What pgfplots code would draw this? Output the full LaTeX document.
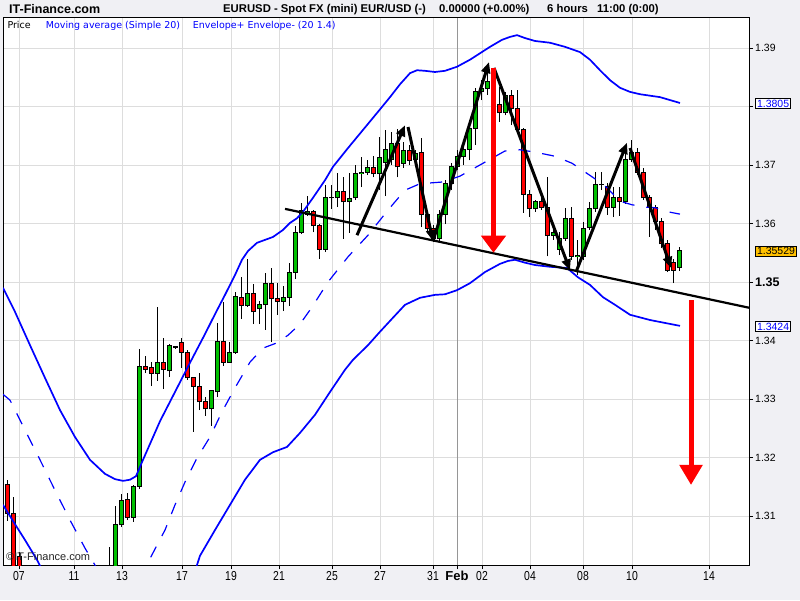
\documentclass[border=0pt]{standalone}
\usepackage{fontspec}
\setmainfont{Liberation Sans}
\newfontfamily\dejavu{DejaVu Sans}
\usepackage{graphicx}
\usepackage{pgfplots}
\usepackage{pgfplotstable}
\pgfplotsset{compat=1.18}
\usetikzlibrary{arrows.meta}
\definecolor{bgc}{RGB}{240,240,244}
\definecolor{cgreen}{RGB}{0,192,0}
\definecolor{cred}{RGB}{255,0,0}
\definecolor{gridc}{RGB}{221,221,221}
\definecolor{febc}{RGB}{150,150,150}
\definecolor{lblue}{RGB}{0,0,255}
\definecolor{obox}{RGB}{255,192,0}
\newcommand\dl[1]{\scalebox{0.8}[1]{#1}}

\pgfplotstableread{
x O H L C
109.5 1.2956 1.3047 1.2939 1.2991
115.5 1.2974 1.3117 1.2965 1.3085
121.5 1.3085 1.3138 1.3081 1.3127
133.5 1.3098 1.3153 1.3090 1.3150
139.5 1.3151 1.3385 1.3146 1.3356
157.5 1.3344 1.3457 1.3331 1.3362
169.5 1.3348 1.3394 1.3338 1.3391
175.5 1.3388 1.3391 1.3386 1.3389
211.5 1.3283 1.3315 1.3254 1.3314
217.5 1.3312 1.3430 1.3303 1.3399
229.5 1.3363 1.3397 1.3362 1.3379
235.5 1.3379 1.3483 1.3377 1.3476
247.5 1.3459 1.3539 1.3457 1.3481
259.5 1.3454 1.3467 1.3428 1.3461
265.5 1.3461 1.3515 1.3418 1.3497
283.5 1.3467 1.3493 1.3450 1.3474
289.5 1.3474 1.3533 1.3459 1.3517
295.5 1.3517 1.3596 1.3505 1.3584
301.5 1.3584 1.3635 1.3582 1.3623
307.5 1.3616 1.3647 1.3613 1.3621
325.5 1.3556 1.3666 1.3551 1.3644
331.5 1.3644 1.3666 1.3625 1.3645
337.5 1.3644 1.3686 1.3628 1.3654
349.5 1.3637 1.3686 1.3584 1.3642
355.5 1.3644 1.3700 1.3640 1.3686
361.5 1.3686 1.3714 1.3662 1.3688
367.5 1.3688 1.3708 1.3683 1.3695
379.5 1.3685 1.3748 1.3657 1.3712
385.5 1.3705 1.3760 1.3647 1.3726
391.5 1.3710 1.3756 1.3700 1.3736
403.5 1.3703 1.3739 1.3695 1.3724
415.5 1.3710 1.3726 1.3705 1.3719
439.5 1.3574 1.3623 1.3568 1.3616
445.5 1.3616 1.3674 1.3599 1.3669
451.5 1.3669 1.3703 1.3657 1.3697
457.5 1.3697 1.3726 1.3691 1.3714
463.5 1.3714 1.3743 1.3700 1.3727
469.5 1.3727 1.3768 1.3708 1.3762
475.5 1.3762 1.3832 1.3734 1.3825
481.5 1.3825 1.3845 1.3811 1.3830
487.5 1.3830 1.3862 1.3820 1.3842
505.5 1.3789 1.3825 1.3785 1.3818
535.5 1.3625 1.3640 1.3620 1.3637
553.5 1.3580 1.3592 1.3572 1.3584
559.5 1.3556 1.3585 1.3546 1.3575
565.5 1.3574 1.3627 1.3570 1.3609
577.5 1.3544 1.3572 1.3512 1.3546
583.5 1.3544 1.3603 1.3538 1.3592
589.5 1.3594 1.3637 1.3589 1.3625
595.5 1.3625 1.3688 1.3620 1.3667
613.5 1.3627 1.3662 1.3611 1.3644
625.5 1.3637 1.3733 1.3633 1.3710
631.5 1.3710 1.3743 1.3705 1.3721
679.5 1.3524 1.3560 1.3519 1.3553
}\greencandles

\pgfplotstableread{
x O H L C
7.5 1.3153 1.3162 1.3092 1.3105
13.5 1.3105 1.3133 1.2974 1.2991
19.5 1.3030 1.3039 1.2956 1.2974
127.5 1.3129 1.3139 1.3093 1.3098
145.5 1.3356 1.3374 1.3344 1.3351
151.5 1.3353 1.3363 1.3322 1.3344
163.5 1.3362 1.3404 1.3317 1.3350
181.5 1.3397 1.3404 1.3353 1.3380
187.5 1.3380 1.3384 1.3333 1.3336
193.5 1.3336 1.3338 1.3244 1.3321
199.5 1.3321 1.3344 1.3281 1.3295
205.5 1.3295 1.3303 1.3271 1.3283
223.5 1.3399 1.3466 1.3356 1.3363
241.5 1.3474 1.3508 1.3437 1.3459
253.5 1.3481 1.3497 1.3428 1.3449
271.5 1.3497 1.3524 1.3397 1.3471
277.5 1.3471 1.3498 1.3444 1.3466
313.5 1.3620 1.3623 1.3585 1.3596
319.5 1.3596 1.3599 1.3539 1.3556
343.5 1.3654 1.3679 1.3574 1.3637
373.5 1.3695 1.3715 1.3679 1.3685
397.5 1.3736 1.3762 1.3679 1.3697
409.5 1.3724 1.3734 1.3700 1.3708
421.5 1.3721 1.3746 1.3594 1.3615
427.5 1.3615 1.3620 1.3585 1.3592
433.5 1.3592 1.3597 1.3568 1.3574
493.5 1.3842 1.3866 1.3804 1.3811
499.5 1.3803 1.3833 1.3774 1.3789
511.5 1.3818 1.3828 1.3768 1.3797
517.5 1.3797 1.3828 1.3755 1.3760
523.5 1.3760 1.3763 1.3618 1.3650
529.5 1.3650 1.3657 1.3611 1.3625
541.5 1.3637 1.3654 1.3623 1.3628
547.5 1.3628 1.3679 1.3544 1.3580
571.5 1.3609 1.3628 1.3538 1.3544
601.5 1.3667 1.3688 1.3657 1.3666
607.5 1.3664 1.3669 1.3615 1.3627
619.5 1.3644 1.3662 1.3613 1.3637
637.5 1.3721 1.3729 1.3683 1.3688
643.5 1.3688 1.3695 1.3640 1.3644
649.5 1.3644 1.3649 1.3577 1.3628
655.5 1.3627 1.3632 1.3589 1.3603
661.5 1.3603 1.3609 1.3558 1.3565
667.5 1.3565 1.3572 1.3517 1.3520
673.5 1.3533 1.3539 1.3498 1.3520
}\redcandles

\pgfplotstableread{
x y
3 1.3308
10 1.3298
20 1.3264
40 1.3196
55 1.3144
70 1.3093
85 1.3045
95 1.3016
105 1.2982
120 1.2963
135 1.2974
145 1.3011
153 1.3037
165 1.3076
175 1.3119
185 1.3158
197 1.3199
210 1.3235
222 1.3278
235 1.3319
250 1.3363
263 1.3387
277 1.3396
288 1.3409
300 1.3428
312 1.3457
328 1.3500
348 1.3543
368 1.3580
388 1.3623
405 1.3657
420 1.3668
443 1.3671
460 1.3681
482 1.3702
505 1.3724
520 1.3726
535 1.3722
555 1.3715
572 1.3703
585 1.3688
597 1.3674
607 1.3661
620 1.3638
632 1.3632
645 1.3628
655 1.3627
668 1.3620
680 1.3616
}\maline

\pgfplotstableread{
x y
3 1.3490
15 1.3449
30 1.3392
45 1.3336
60 1.3281
75 1.3235
90 1.3196
105 1.3172
115 1.3163
123 1.3160
130 1.3162
136 1.3168
143 1.3196
160 1.3262
175 1.3312
190 1.3362
205 1.3411
215 1.3445
225 1.3478
235 1.3512
242 1.3538
248 1.3553
257 1.3567
273 1.3577
283 1.3589
290 1.3601
297 1.3609
303 1.3620
313 1.3644
325 1.3674
333 1.3697
348 1.3729
363 1.3760
378 1.3791
390 1.3816
400 1.3838
410 1.3857
417 1.3862
425 1.3861
435 1.3859
445 1.3861
457 1.3868
470 1.3880
480 1.3891
490 1.3902
502 1.3914
510 1.3919
517 1.3922
525 1.3917
535 1.3912
550 1.3909
565 1.3902
580 1.3893
590 1.3880
600 1.3862
610 1.3845
620 1.3832
630 1.3825
640 1.3821
660 1.3816
670 1.3811
680 1.3806
}\upperenv

\pgfplotstableread{
x y
3 1.3119
15 1.3086
25 1.3059
37 1.3025
50 1.2982
70 1.2914
95 1.2837
123 1.2785
150 1.2820
175 1.2914
190 1.2982
196 1.3011
200 1.3032
215 1.3076
230 1.3119
245 1.3162
260 1.3196
273 1.3209
287 1.3218
300 1.3242
315 1.3273
330 1.3312
345 1.3350
353 1.3367
368 1.3392
380 1.3415
393 1.3439
405 1.3461
420 1.3473
435 1.3478
445 1.3479
457 1.3486
470 1.3498
485 1.3517
500 1.3531
508 1.3536
515 1.3538
525 1.3533
535 1.3529
550 1.3526
567 1.3524
578 1.3508
590 1.3495
603 1.3474
615 1.3461
630 1.3444
650 1.3435
665 1.3430
680 1.3425
}\lowerenv

\begin{document}
\begin{tikzpicture}[x=1pt,y=1pt]
\fill[bgc] (0,0) rectangle (800,600);
\useasboundingbox (0,0) rectangle (800,600);
\begin{axis}[
  at={(3pt,35pt)}, anchor=south west,
  width=746pt, height=547pt, scale only axis,
  xmin=3, xmax=749, ymin=1.30162, ymax=1.39513,
  axis background/.style={fill=white},
  axis line style={black, line width=1pt},
  xtick={19,74,122,182,231,279,332,380,433,482,530,583,632,709},
  xticklabels={\dl{07},\dl{11},\dl{13},\dl{17},\dl{19},\dl{21},\dl{25},\dl{27},\dl{31},\dl{02},\dl{04},\dl{08},\dl{10},\dl{14}},
  extra x ticks={457},
  extra x tick labels={\textbf{Feb}},
  extra x tick style={major grid style={draw=febc, line width=0.9pt}},
  ytick={1.31,1.32,1.33,1.34,1.35,1.36,1.37,1.38,1.39},
  yticklabels={1.31,1.32,1.33,1.34,{\bfseries\fontsize{12.5}{13}\selectfont 1.35},1.36,1.37,{},1.39},
  extra y ticks={1.3805,1.35529,1.3424},
  extra y tick labels={
    {\setlength\fboxsep{1pt}\setlength\fboxrule{0.8pt}\fcolorbox{black}{white}{\textcolor{lblue}{1.3805}}},
    {\setlength\fboxsep{1pt}\setlength\fboxrule{0.8pt}\fcolorbox{black}{obox}{1.35529}},
    {\setlength\fboxsep{1pt}\setlength\fboxrule{0.8pt}\fcolorbox{black}{white}{\textcolor{lblue}{1.3424}}}},
  extra y tick style={grid=none, major tick style={draw=none}},
  grid=major,
  major grid style={draw=gridc, line width=0.8pt},
  xtick pos=bottom, ytick pos=right, yticklabel pos=right,
  tick align=outside, major tick length=4pt,
  tick style={black, line width=0.8pt},
  xticklabel style={font=\fontsize{13}{14}\selectfont, inner sep=2pt},
  yticklabel style={font=\fontsize{10.5}{12}\selectfont, anchor=west, inner sep=2pt},
  /pgf/number format/assume math mode=true,
  clip=true,
  candle/.style={draw=none, no markers, forget plot,
    error bars/y dir=plus, error bars/y explicit, error bars/error mark=none},
]
% wicks
\addplot[candle, error bars/error bar style={draw=black, line width=1pt}]
  table[x=x, y=L, y error plus expr={\thisrow{H}-\thisrow{L}}] {\greencandles};
\addplot[candle, error bars/error bar style={draw=black, line width=1pt}]
  table[x=x, y=L, y error plus expr={\thisrow{H}-\thisrow{L}}] {\redcandles};
% bodies outline
\addplot[candle, error bars/error bar style={draw=black, line width=5pt}]
  table[x=x, y expr={\thisrow{O}-0.0000855}, y error plus expr={\thisrow{C}-\thisrow{O}+0.000171}] {\greencandles};
\addplot[candle, error bars/error bar style={draw=black, line width=5pt}]
  table[x=x, y expr={\thisrow{C}-0.0000855}, y error plus expr={\thisrow{O}-\thisrow{C}+0.000171}] {\redcandles};
% bodies fill
\addplot[candle, error bars/error bar style={draw=cgreen, line width=3pt}]
  table[x=x, y expr={\thisrow{O}+0.0000855}, y error plus expr={max(\thisrow{C}-\thisrow{O}-0.000171,0)}] {\greencandles};
\addplot[candle, error bars/error bar style={draw=cred, line width=3pt}]
  table[x=x, y expr={\thisrow{C}+0.0000855}, y error plus expr={max(\thisrow{O}-\thisrow{C}-0.000171,0)}] {\redcandles};
% indicators
\addplot[lblue, line width=1.2pt, dash pattern=on 12pt off 12pt, mark=none] table[x=x,y=y] {\maline};
\addplot[lblue, line width=1.7pt, mark=none] table[x=x,y=y] {\upperenv};
\addplot[lblue, line width=1.7pt, mark=none] table[x=x,y=y] {\lowerenv};
% trendline
\addplot[black, line width=2.2pt, mark=none] coordinates {(285,1.3625) (749,1.3456)};
% zigzag arrows
\addplot[black, line width=3pt, mark=none, -{Triangle[length=11pt,width=9pt]}] coordinates {(357,1.3580) (405,1.3768)};
\addplot[black, line width=3pt, mark=none, -{Triangle[length=11pt,width=9pt]}] coordinates {(408,1.3765) (433,1.3570)};
\addplot[black, line width=3pt, mark=none, -{Triangle[length=11pt,width=9pt]}] coordinates {(433,1.3570) (489,1.3876)};
\addplot[black, line width=3pt, mark=none, -{Triangle[length=11pt,width=9pt]}] coordinates {(494,1.3866) (570,1.3520)};
\addplot[black, line width=3pt, mark=none, -{Triangle[length=11pt,width=9pt]}] coordinates {(576,1.3517) (627,1.3738)};
\addplot[black, line width=3pt, mark=none, -{Triangle[length=11pt,width=9pt]}] coordinates {(630,1.3729) (671,1.3524)};
% red arrows
\addplot[cred, line width=5pt, mark=none, -{Triangle[length=17pt,width=24pt]}] coordinates {(493.5,1.3866) (493.5,1.3550)};
\addplot[cred, line width=5pt, mark=none, -{Triangle[length=20pt,width=22pt]}] coordinates {(691,1.3469) (691,1.3153)};
\end{axis}
% header
\node[anchor=base west, inner sep=0pt, font=\bfseries\fontsize{12.5}{14}\selectfont] at (9,586.7) {IT-Finance.com};
\node[anchor=base west, inner sep=0pt, font=\bfseries\fontsize{11.3}{13}\selectfont] at (223,587.3) {EURUSD - Spot FX (mini) EUR/USD (-)};
\node[anchor=base west, inner sep=0pt, font=\bfseries\fontsize{11.3}{13}\selectfont] at (439,587.3) {0.00000 (+0.00\%)};
\node[anchor=base west, inner sep=0pt, font=\bfseries\fontsize{11.3}{13}\selectfont] at (547,587.3) {6 hours};
\node[anchor=base west, inner sep=0pt, font=\bfseries\fontsize{11.3}{13}\selectfont] at (597,587.3) {11:00 (0:00)};
% legend
\node[anchor=base west, inner sep=0pt, font=\dejavu\fontsize{9.5}{11}\selectfont] at (7.3,571.7) {Price};
\node[anchor=base west, inner sep=0pt, font=\dejavu\fontsize{9.5}{11}\selectfont, text=lblue] at (45.7,571.7) {Moving average (Simple 20)};
\node[anchor=base west, inner sep=0pt, font=\dejavu\fontsize{9.5}{11}\selectfont, text=lblue] at (192.7,571.7) {Envelope+ Envelope- (20 1.4)};
% watermark
\node[anchor=base west, inner sep=0pt, font=\fontsize{11}{12}\selectfont, text=black!85] at (6,40) {©IT-Finance.com};
\end{tikzpicture}
\end{document}
